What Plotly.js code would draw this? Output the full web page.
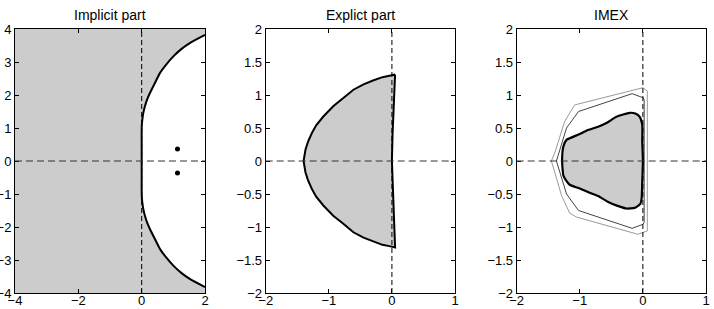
<!DOCTYPE html>
<html>
<head>
<meta charset="utf-8">
<script src="https://cdn.plot.ly/plotly-3.0.1.min.js"></script>
<style>
  html, body { margin: 0; padding: 0; background: white; }
  #plot { width: 714px; height: 309px; }
</style>
</head>
<body>
<div id="plot"></div>
<script>
// panel titles
const panelTitles = ['Implicit part', 'Explict part', 'IMEX'];

// axis ranges
const implicitXRange = [-4, 2];
const implicitYRange = [-4, 4];
const explicitXRange = [-2, 1];
const explicitYRange = [-2, 2];

// implicit part: stability boundary (region right of it is white)
const implicitX = [2.0, 1.53, 1.25, 1.0, 0.78, 0.58, 0.41, 0.26, 0.17, 0.10, 0.05, 0.02, 0.005, 0.0, 0.0,
                   0.0, 0.0, 0.005, 0.02, 0.05, 0.10, 0.17, 0.26, 0.41, 0.58, 0.78, 1.0, 1.25, 1.53, 2.0];
const implicitY = [3.82, 3.58, 3.39, 3.17, 2.93, 2.67, 2.35, 2.06, 1.86, 1.65, 1.45, 1.25, 1.10, 0.94, 0.50,
                   -0.50, -0.94, -1.10, -1.25, -1.45, -1.65, -1.86, -2.06, -2.35, -2.67, -2.93, -3.17, -3.39, -3.58, -3.82];
// eigenvalues
const dotX = [1.13, 1.13];
const dotY = [0.36, -0.36];

// explicit part: stability region
const explicitX = [0.05, -0.04, -0.15, -0.30, -0.45, -0.61, -0.77, -0.93, -1.09, -1.20, -1.27, -1.33, -1.37, -1.40,
                   -1.37, -1.33, -1.27, -1.20, -1.09, -0.93, -0.77, -0.61, -0.45, -0.30, -0.15, -0.04, 0.05,
                   0.04, 0.03, 0.01, 0.0, 0.01, 0.03, 0.04, 0.05];
const explicitY = [1.31, 1.29, 1.27, 1.22, 1.16, 1.08, 0.95, 0.83, 0.67, 0.54, 0.42, 0.29, 0.17, 0.0,
                   -0.17, -0.29, -0.42, -0.54, -0.67, -0.83, -0.95, -1.08, -1.16, -1.22, -1.27, -1.29, -1.31,
                   -1.05, -0.78, -0.40, 0.0, 0.40, 0.78, 1.05, 1.31];

// IMEX: inner (filled), middle and outer contours
const imexInnerX = [0.0, -0.01, -0.01, -0.05, -0.12, -0.21, -0.42, -0.57, -0.71, -0.87, -1.02, -1.21, -1.26, -1.28,
                    -1.26, -1.22, -1.16, -1.02, -0.87, -0.71, -0.55, -0.40, -0.26, -0.13, -0.04, -0.02, -0.01, 0.0];
const imexInnerY = [0.0, 0.30, 0.55, 0.67, 0.72, 0.73, 0.67, 0.58, 0.52, 0.47, 0.40, 0.32, 0.22, 0.0,
                    -0.22, -0.29, -0.36, -0.41, -0.47, -0.53, -0.62, -0.68, -0.72, -0.71, -0.65, -0.57, -0.30, 0.0];
const imexMidX = [-1.37, -1.34, -1.21, -1.02, -0.17, 0.0, 0.02, 0.02, 0.0, -0.17, -1.02, -1.21, -1.34, -1.37];
const imexMidY = [0.0, 0.09, 0.50, 0.75, 1.02, 0.96, 0.93, -0.93, -0.96, -1.02, -0.75, -0.50, -0.09, 0.0];
const imexOuterX = [-1.45, -1.39, -1.24, -1.08, 0.0, 0.07, 0.07, -0.08, -1.05, -1.16, -1.29, -1.45];
const imexOuterY = [0.0, 0.14, 0.60, 0.85, 1.11, 1.06, -1.06, -1.11, -0.85, -0.79, -0.52, 0.0];

const font = { family: 'Liberation Sans, Arial, sans-serif', size: 13, color: 'black' };
const titleFont = { family: 'Liberation Sans, Arial, sans-serif', size: 14, color: 'black' };

function axisStyle(domain, range, dtick, anchor, standoff) {
    return {
        domain: domain, range: range, dtick: dtick, anchor: anchor,
        showline: true, linecolor: 'black', linewidth: 1, mirror: 'allticks',
        ticks: 'inside', ticklen: 4, tickwidth: 1, tickcolor: 'black',
        showgrid: false, zeroline: false, fixedrange: true,
        ticklabelstandoff: standoff,
        tickfont: font
    };
}

const traces = [
    {
        x: implicitX, y: implicitY, xaxis: 'x', yaxis: 'y',
        type: 'scatter', mode: 'lines', fill: 'toself', fillcolor: 'white',
        line: { color: 'black', width: 2, shape: 'spline', smoothing: 0.5 },
        hoverinfo: 'skip', showlegend: false
    },
    {
        x: dotX, y: dotY, xaxis: 'x', yaxis: 'y',
        type: 'scatter', mode: 'markers',
        marker: { color: 'black', size: 5 },
        showlegend: false
    },
    {
        x: explicitX, y: explicitY, xaxis: 'x2', yaxis: 'y2',
        type: 'scatter', mode: 'lines', fill: 'toself', fillcolor: '#cccccc',
        line: { color: 'black', width: 2 },
        showlegend: false
    },
    {
        x: imexOuterX, y: imexOuterY, xaxis: 'x3', yaxis: 'y3',
        type: 'scatter', mode: 'lines',
        line: { color: '#999999', width: 1 },
        showlegend: false
    },
    {
        x: imexMidX, y: imexMidY, xaxis: 'x3', yaxis: 'y3',
        type: 'scatter', mode: 'lines',
        line: { color: '#444444', width: 1 },
        showlegend: false
    },
    {
        x: imexInnerX, y: imexInnerY, xaxis: 'x3', yaxis: 'y3',
        type: 'scatter', mode: 'lines', fill: 'toself', fillcolor: '#cccccc',
        line: { color: 'black', width: 2.2, shape: 'spline', smoothing: 0.5 },
        showlegend: false
    }
];

const axisIds = ['', '2', '3'];
const shapes = [
    // grey background of the implicit panel
    { type: 'rect', xref: 'x domain', yref: 'y domain', x0: 0, x1: 1, y0: 0, y1: 1,
      fillcolor: '#cccccc', line: { width: 0 }, layer: 'below' }
];
axisIds.forEach(id => {
    shapes.push({ type: 'line', xref: 'x' + id, yref: 'y' + id + ' domain', x0: 0, x1: 0, y0: 0, y1: 1,
                  line: { color: 'black', width: 1, dash: '5px,3px' }, layer: 'above' });
    shapes.push({ type: 'line', xref: 'x' + id + ' domain', yref: 'y' + id, x0: 0, x1: 1, y0: 0, y1: 0,
                  line: { color: '#333333', width: 1, dash: '7px,4px' }, layer: 'above' });
});

const annotations = panelTitles.map((t, i) => ({
    text: t, xref: 'x' + axisIds[i] + ' domain', yref: 'y' + axisIds[i] + ' domain',
    x: 0.5, y: 1, xanchor: 'center', yanchor: 'bottom', yshift: 4,
    showarrow: false, font: titleFont
}));

const layout = {
    width: 714, height: 309,
    margin: { l: 15, r: 8, t: 29, b: 16 },
    paper_bgcolor: 'white', plot_bgcolor: 'white',
    font: font,
    showlegend: false,
    xaxis: axisStyle([0, 0.275], implicitXRange, 2, 'y', -5),
    yaxis: axisStyle([0, 1], implicitYRange, 1, 'x', 0),
    xaxis2: axisStyle([0.3628, 0.6368], explicitXRange, 1, 'y2', -5),
    yaxis2: axisStyle([0, 1], explicitYRange, 0.5, 'x2', 0),
    xaxis3: axisStyle([0.726, 1], explicitXRange, 1, 'y3', -5),
    yaxis3: axisStyle([0, 1], explicitYRange, 0.5, 'x3', 0),
    shapes: shapes,
    annotations: annotations
};

Plotly.newPlot('plot', traces, layout, { displayModeBar: false, staticPlot: true });
</script>
</body>
</html>
